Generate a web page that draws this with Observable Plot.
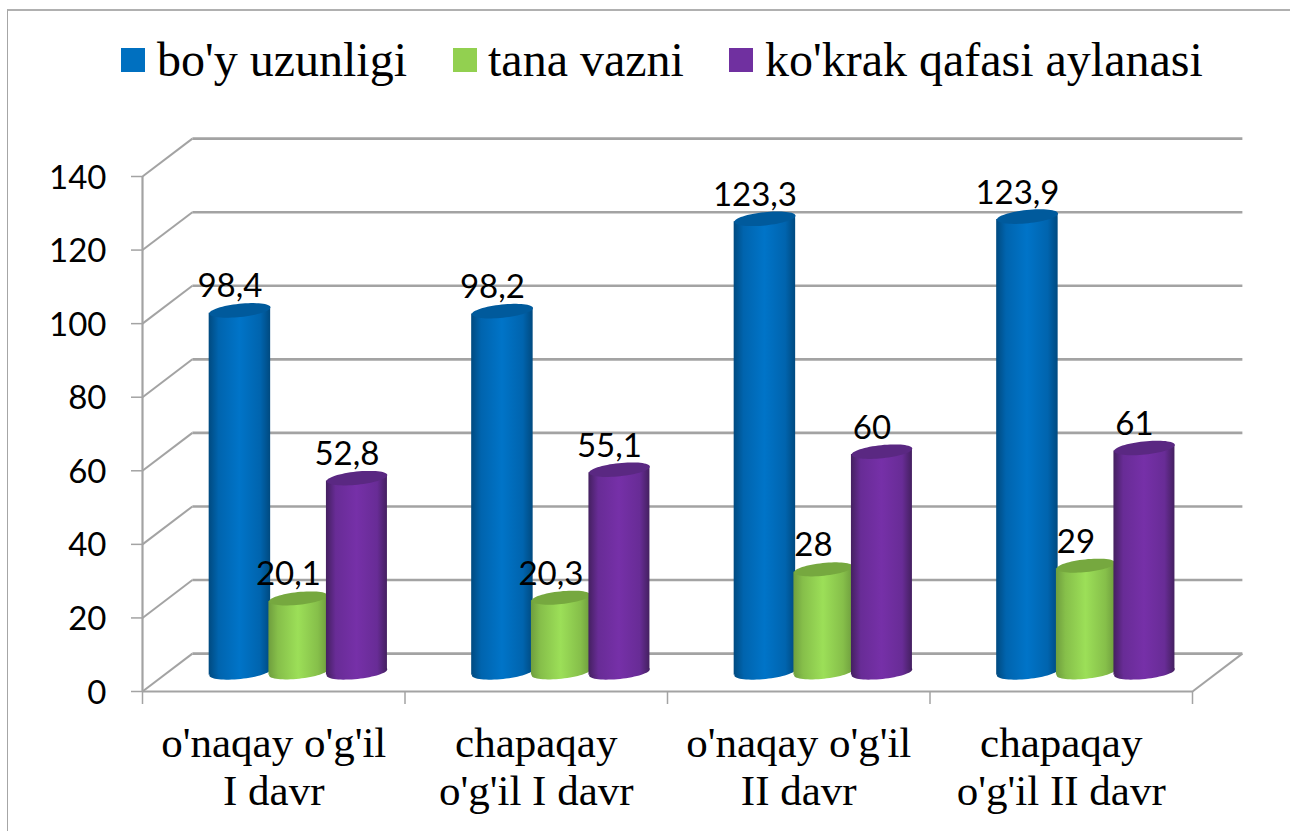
<!DOCTYPE html>
<html>
<head>
<meta charset="utf-8">
<script src="https://cdn.jsdelivr.net/npm/d3@7"></script>
<script src="https://cdn.jsdelivr.net/npm/@observablehq/plot@0.6"></script>
<style>
  html, body { margin: 0; padding: 0; background: #fff; width: 1290px; height: 831px; overflow: hidden; }
  #frame { position: absolute; left: 7px; top: 9px; right: 0; bottom: 0; border-left: 1px solid #a6a6a6; border-top: 2px solid #b0b0b0; box-sizing: border-box; }
  #legend { position: relative; height: 100px; font-family: "Liberation Serif", serif; font-size: 48px; color: #000; }
  #legend .k { position: absolute; top: 48px; width: 24px; height: 24px; }
  #legend .t { position: absolute; top: 33px; line-height: 54px; white-space: nowrap; }
  #chart { position: relative; }
  svg { display: block; }
</style>
</head>
<body>
<div id="frame"></div>
<div id="legend"></div>
<div id="chart"></div>
<script>
const categories = ["o'naqay o'g'il\nI davr", "chapaqay\no'g'il I davr", "o'naqay o'g'il\nII davr", "chapaqay\no'g'il II davr"];
const seriesNames = ["bo'y uzunligi", "tana vazni", "ko'krak qafasi aylanasi"];
const boyUzunligi = [98.4, 98.2, 123.3, 123.9];
const tanaVazni = [20.1, 20.3, 28, 29];
const kokrakQafasi = [52.8, 55.1, 60, 61];
const valueLabels = [
  ["98,4", "98,2", "123,3", "123,9"],
  ["20,1", "20,3", "28", "29"],
  ["52,8", "55,1", "60", "61"]
];
const yTicks = [0, 20, 40, 60, 80, 100, 120, 140];
const xTicks = [0, 1, 2, 3, 4];
const seriesValues = [boyUzunligi, tanaVazni, kokrakQafasi];
const swatches = ["#0070c0", "#92d050", "#7030a0"];
const capColors = ["#005a9c", "#76a83f", "#5a2882"];
const ramps = [
  ["#004a80", "#0064ae", "#0074c8", "#0064ae", "#004a80"],
  ["#6f9e3e", "#86bf4a", "#9cdf58", "#86bf4a", "#6f9e3e"],
  ["#442060", "#682c96", "#7630a8", "#682c96", "#442060"]
];
const gradIds = ["gBlue", "gGreen", "gPurple"];
const seriesOffset = [-0.2229, 0, 0.2229];   // category units
const halfWidth = [0.1171, 0.1124, 0.1162];  // category units

// 3-D floor depth, in data units of the two scales
const depthX = 0.19, depthY = 10.3;
const midX = 0.094, midY = 5.2, tilt = 0.8;

// Legend
const legendItems = [[121, 157], [453, 488], [729, 765]];
const legend = d3.select("#legend");
seriesNames.forEach((n, i) => {
  legend.append("div").attr("class", "k").style("left", legendItems[i][0] + "px").style("background", swatches[i]);
  legend.append("div").attr("class", "t").style("left", legendItems[i][1] + "px").text(n);
});

// Cylinder rows
const bodies = [], caps = [], labels = [];
seriesValues.forEach((vals, s) => vals.forEach((v, c) => {
  const cx = c + 0.5 + midX + seriesOffset[s];
  const key = s + "-" + c;
  bodies.push({s, key, x: cx - halfWidth[s], y1: midY - tilt, y2: v + midY - tilt});
  bodies.push({s, key, x: cx + halfWidth[s], y1: midY + tilt, y2: v + midY + tilt});
  caps.push({s, x: cx, y: v + midY, base: midY});
  labels.push({x: cx, y: v + midY, text: valueLabels[s][c]});
}));

const ellipse = {
  draw(ctx, size) {
    const rx = Math.sqrt(size / Math.PI), ry = rx * 0.215, a = -6 * Math.PI / 180;
    const n = 64;
    for (let i = 0; i <= n; i++) {
      const t = i / n * 2 * Math.PI;
      const px = rx * Math.cos(t), py = ry * Math.sin(t);
      const qx = px * Math.cos(a) - py * Math.sin(a), qy = px * Math.sin(a) + py * Math.cos(a);
      if (i === 0) ctx.moveTo(qx, qy); else ctx.lineTo(qx, qy);
    }
    ctx.closePath();
  }
};

const defsMark = () => {
  const d = d3.create("svg:defs");
  ramps.forEach((r, i) => {
    const g = d.append("linearGradient").attr("id", gradIds[i]).attr("x1", 0).attr("x2", 1).attr("y1", 0).attr("y2", 0);
    [0, 0.16, 0.5, 0.84, 1].forEach((o, j) => g.append("stop").attr("offset", o).attr("stop-color", r[j]));
  });
  return d.node();
};

const gridColor = "#a3a3a3";
const seriesMarks = [0, 1, 2].flatMap(s => {
  const url = `url(#${gradIds[s]})`;
  const sc = caps.filter(d => d.s === s);
  const r = halfWidth[s] * 262.5;
  return [
    Plot.dot(sc, {x: "x", y: "base", r, symbol: ellipse, fill: url, stroke: "none"}),
    Plot.areaY(bodies.filter(d => d.s === s), {x: "x", y1: "y1", y2: "y2", z: "key", fill: url}),
    Plot.dot(sc, {x: "x", y: "y", r, symbol: ellipse, fill: capColors[s], stroke: "none"})
  ];
});

const chart = Plot.plot({
  width: 1290, height: 731,
  marginLeft: 142, marginRight: 98, marginTop: 76, marginBottom: 140,
  style: {background: "transparent", overflow: "visible"},
  x: {domain: [0, 4], axis: null},
  y: {domain: [0, 140], axis: null},
  marks: [
    defsMark,
    // back wall gridlines and side/floor diagonals
    Plot.link(yTicks, {x1: () => depthX, x2: () => 4 + depthX, y1: d => d + depthY, y2: d => d + depthY, stroke: gridColor, strokeWidth: 2.6}),
    Plot.link(yTicks, {x1: () => 0, x2: () => depthX, y1: d => d, y2: d => d + depthY, stroke: gridColor, strokeWidth: 2}),
    Plot.link([4], {x1: d => d, x2: d => d + depthX, y1: () => 0, y2: () => depthY, stroke: gridColor, strokeWidth: 2}),
    // front axes
    Plot.ruleX([0], {y1: 0, y2: 140, stroke: gridColor, strokeWidth: 2.2}),
    Plot.ruleY([0], {x1: 0, x2: 4, stroke: gridColor, strokeWidth: 2.2}),
    Plot.axisY({ticks: yTicks, tickSize: 11, stroke: gridColor, tickFormat: () => "", label: null, strokeWidth: 1.5}),
    Plot.axisY({ticks: yTicks, tickSize: 0, tickPadding: 36, dy: 1.5, fontSize: 33, color: "#000", fontFamily: "Lato", label: null, tickFormat: d => String(d)}),
    Plot.axisX({ticks: xTicks, tickSize: 13, stroke: gridColor, tickFormat: () => "", label: null, strokeWidth: 1.5}),
    ...seriesMarks,
    Plot.text(labels, {x: "x", y: "y", text: "text", dx: -10, dy: -13, lineAnchor: "bottom", fontSize: 33, fontFamily: "Lato", fill: "#000"}),
    Plot.text(categories, {x: (d, i) => i + 0.5, y: () => 0, text: d => d, dy: 31, lineAnchor: "top", lineHeight: 1.116, fontSize: 43, fontFamily: "Liberation Serif", fill: "#000"})
  ]
});
document.getElementById("chart").appendChild(chart);
</script>
</body>
</html>
